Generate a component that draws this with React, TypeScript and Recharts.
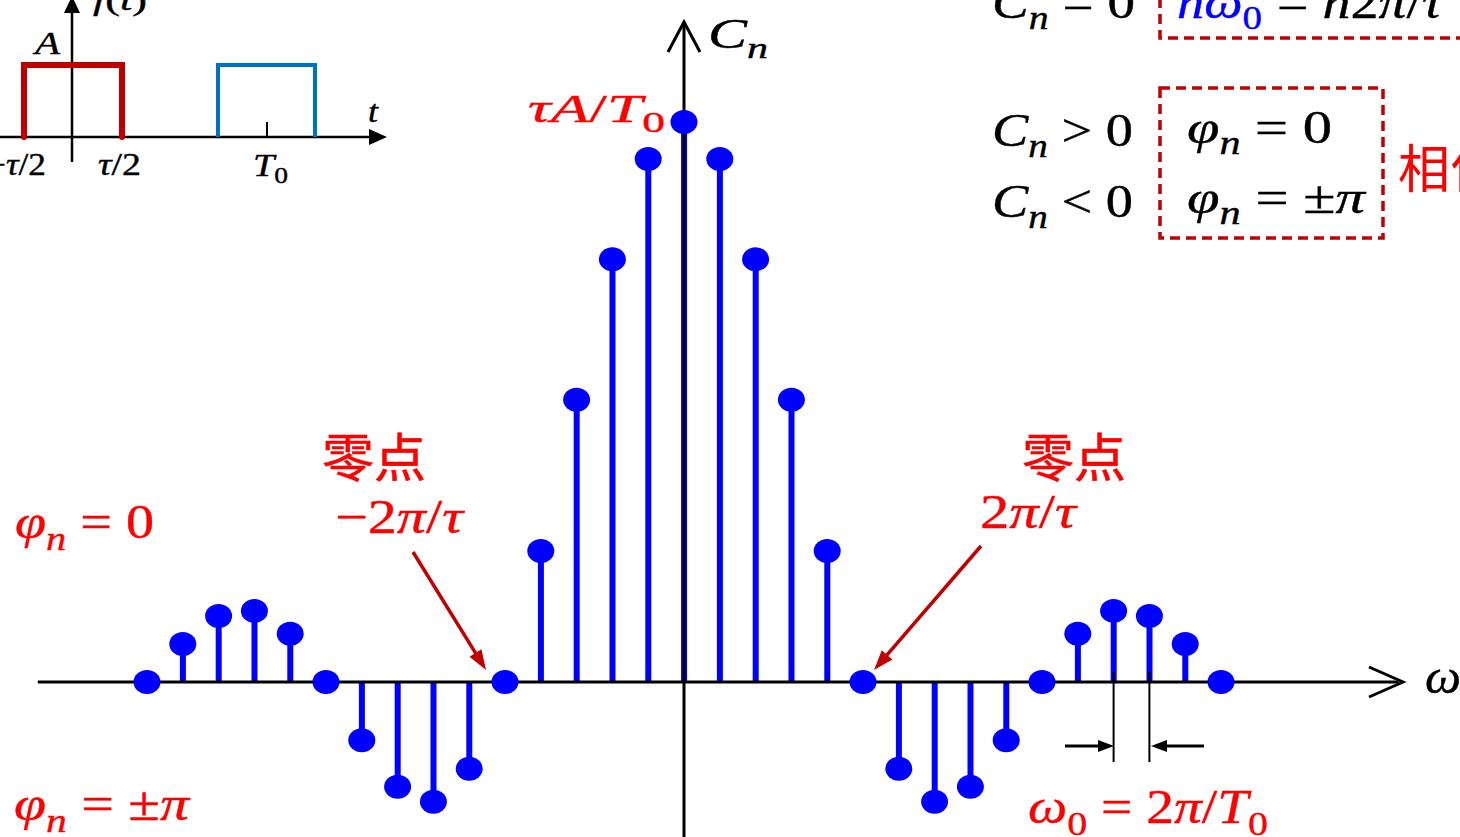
import { ComposedChart, Bar, Scatter, XAxis, YAxis, ReferenceLine } from 'recharts'

// harmonic index n and the Fourier coefficient C_n (normalised to τA/T0 = 1)
const harmonics = [-15, -14, -13, -12, -11, -10, -9, -8, -7, -6, -5, -4, -3, -2, -1, 0, 1, 2, 3, 4, 5, 6, 7, 8, 9, 10, 11, 12, 13, 14, 15]
const coefficients = [
  0, 0.068, 0.118, 0.127, 0.086, 0, -0.104, -0.187, -0.214, -0.155, 0,
  0.234, 0.504, 0.755, 0.934, 1, 0.934, 0.755, 0.504, 0.234,
  0, -0.155, -0.214, -0.187, -0.104, 0, 0.086, 0.127, 0.118, 0.068, 0,
]
// axis extents and the two ticks that mark one ω0 spacing
const omegaAxis = [-18.05, 19.96]
const cnAxis = [-0.28, 1.179]
const spacingTicks = [12, 13]
const spacingTickSpan = [0.018, -0.143]

const X_DOMAIN = [-19.106, 21.676]
const Y_DOMAIN = [-0.2768, 1.2179]

const W = 1460
const H = 837
const BLUE = '#0000ff'
const RED = '#ff0000'
const DARK_RED = '#c00000'
const MATH = '"Liberation Serif", "DejaVu Serif", serif'
const CJK = '"Noto Sans CJK SC", "Noto Sans CJK JP", sans-serif'

const data = harmonics.map((n, i) => ({ n, c: coefficients[i] }))

const Dot = (props: any) => (
  <ellipse cx={props.cx} cy={props.cy} rx={13.5} ry={12} fill={BLUE} />
)

function Eq({ x, y, size, width, fill = '#000', children }: any) {
  return (
    <text
      x={x}
      y={y}
      fontSize={size}
      fontFamily={MATH}
      fill={fill}
      stroke={fill}
      strokeWidth={0.4}
      textLength={width}
      lengthAdjust="spacingAndGlyphs"
    >
      {children}
    </text>
  )
}

function Arrow({ x1, y1, x2, y2, color, width, head, half }: any) {
  const dx = x2 - x1
  const dy = y2 - y1
  const len = Math.hypot(dx, dy)
  const ux = dx / len
  const uy = dy / len
  const bx = x2 - ux * head
  const by = y2 - uy * head
  const pts = `${x2},${y2} ${bx - uy * half},${by + ux * half} ${bx + uy * half},${by - ux * half}`
  return (
    <g>
      <line x1={x1} y1={y1} x2={bx + ux * 2} y2={by + uy * 2} stroke={color} strokeWidth={width} />
      <polygon points={pts} fill={color} />
    </g>
  )
}

function Annotations() {
  const sub = (s: string, size: number, italic = false) => (
    <tspan dy={size * 0.24} fontSize={size * 0.72} fontStyle={italic ? 'italic' : 'normal'}>{s}</tspan>
  )
  return (
    <svg width={W} height={H} style={{ position: 'absolute', left: 0, top: 0, pointerEvents: 'none' }}>
      {/* axis arrowheads */}
      <polyline points="1369,667 1403,682 1369,697" fill="none" stroke="#000" strokeWidth={3} />
      <polyline points="668,52 684,22 700,52" fill="none" stroke="#000" strokeWidth={3} />
      <Eq x={708} y={48} size={42} width={60}>
        <tspan fontStyle="italic">C</tspan>{sub('n', 42, true)}
      </Eq>
      <Eq x={1425} y={693} size={48} width={36}>
        <tspan fontStyle="italic">ω</tspan>
      </Eq>

      {/* rectangular pulse train f(t) */}
      <line x1={0} y1={137} x2={372} y2={137} stroke="#000" strokeWidth={2.5} />
      <polygon points="369,129 387,137 369,145" fill="#000" />
      <line x1={72} y1={162} x2={72} y2={10} stroke="#000" strokeWidth={2.5} />
      <polygon points="64,13 72,-4 80,13" fill="#000" />
      <line x1={267} y1={122} x2={267} y2={137} stroke="#000" strokeWidth={2} />
      <polyline points="24,137 24,65 122,65 122,137" fill="none" stroke={DARK_RED} strokeWidth={6} strokeLinecap="round" />
      <polyline points="218,137 218,65 315,65 315,137" fill="none" stroke="#0070c0" strokeWidth={4} />
      <Eq x={93} y={10} size={30} width={54}>
        <tspan fontStyle="italic">f</tspan>(<tspan fontStyle="italic">t</tspan>)
      </Eq>
      <Eq x={35} y={54} size={31} width={25}>
        <tspan fontStyle="italic">A</tspan>
      </Eq>
      <Eq x={368} y={122} size={31} width={10}>
        <tspan fontStyle="italic">t</tspan>
      </Eq>
      <Eq x={-14} y={175} size={31} width={60}>
        −<tspan fontStyle="italic">τ</tspan>/2
      </Eq>
      <Eq x={98} y={175} size={31} width={43}>
        <tspan fontStyle="italic">τ</tspan>/2
      </Eq>
      <Eq x={253} y={176} size={31} width={35}>
        <tspan fontStyle="italic">T</tspan>{sub('0', 31)}
      </Eq>

      {/* peak value */}
      <Eq x={528} y={122} size={40} width={137} fill={RED}>
        <tspan fontStyle="italic">τA</tspan>/<tspan fontStyle="italic">T</tspan>{sub('0', 40)}
      </Eq>

      {/* phase rule */}
      <Eq x={992} y={18} size={47} width={143}>
        <tspan fontStyle="italic">C</tspan>{sub('n', 47, true)}<tspan dy={-47 * 0.24}> = 0</tspan>
      </Eq>
      <Eq x={1177} y={18} size={47} width={85} fill={BLUE}>
        <tspan fontStyle="italic">nω</tspan>{sub('0', 47)}
      </Eq>
      <Eq x={1277} y={18} size={47} width={165}>
        = <tspan fontStyle="italic">n</tspan>2<tspan fontStyle="italic">π</tspan>/<tspan fontStyle="italic">τ</tspan>
      </Eq>
      <rect x={1160} y={-20} width={340} height={58} fill="none" stroke={DARK_RED} strokeWidth={3.5} strokeDasharray="10 6" />

      <Eq x={992} y={146} size={47} width={141}>
        <tspan fontStyle="italic">C</tspan>{sub('n', 47, true)}<tspan dy={-47 * 0.24}> &gt; 0</tspan>
      </Eq>
      <Eq x={992} y={217} size={47} width={141}>
        <tspan fontStyle="italic">C</tspan>{sub('n', 47, true)}<tspan dy={-47 * 0.24}> &lt; 0</tspan>
      </Eq>
      <rect x={1160} y={88} width={223} height={150} fill="none" stroke={DARK_RED} strokeWidth={3.5} strokeDasharray="10 6" />
      <Eq x={1187} y={143} size={47} width={145}>
        <tspan fontStyle="italic">φ</tspan>{sub('n', 47, true)}<tspan dy={-47 * 0.24}> = 0</tspan>
      </Eq>
      <Eq x={1187} y={213} size={47} width={178}>
        <tspan fontStyle="italic">φ</tspan>{sub('n', 47, true)}<tspan dy={-47 * 0.24}> = ±</tspan><tspan fontStyle="italic">π</tspan>
      </Eq>
      <text x={1398} y={188} fontSize={52} fontFamily={CJK} fill={RED}>相位</text>

      {/* phase labels */}
      <Eq x={15} y={538} size={48} width={139} fill={RED}>
        <tspan fontStyle="italic">φ</tspan>{sub('n', 48, true)}<tspan dy={-48 * 0.24}> = 0</tspan>
      </Eq>
      <Eq x={14} y={820} size={48} width={175} fill={RED}>
        <tspan fontStyle="italic">φ</tspan>{sub('n', 48, true)}<tspan dy={-48 * 0.24}> = ±</tspan><tspan fontStyle="italic">π</tspan>
      </Eq>

      {/* zero crossings */}
      <text x={322} y={477} fontSize={52} fontFamily={CJK} fill={RED} stroke={RED} strokeWidth={0.6} textLength={104} lengthAdjust="spacingAndGlyphs">零点</text>
      <Eq x={335} y={533} size={48} width={128} fill={RED}>
        −2<tspan fontStyle="italic">π</tspan>/<tspan fontStyle="italic">τ</tspan>
      </Eq>
      <Arrow x1={413} y1={552} x2={486} y2={670} color={DARK_RED} width={3.5} head={20} half={7} />
      <text x={1022} y={477} fontSize={52} fontFamily={CJK} fill={RED} stroke={RED} strokeWidth={0.6} textLength={104} lengthAdjust="spacingAndGlyphs">零点</text>
      <Eq x={980} y={528} size={48} width={96} fill={RED}>
        2<tspan fontStyle="italic">π</tspan>/<tspan fontStyle="italic">τ</tspan>
      </Eq>
      <Arrow x1={981} y1={546} x2={874} y2={670} color={DARK_RED} width={3.5} head={20} half={7} />

      {/* fundamental spacing */}
      <Arrow x1={1065} y1={746} x2={1114} y2={746} color="#000" width={3} head={16} half={6} />
      <Arrow x1={1204} y1={746} x2={1151} y2={746} color="#000" width={3} head={16} half={6} />
      <Eq x={1028} y={823} size={48} width={240} fill={RED}>
        <tspan fontStyle="italic">ω</tspan>{sub('0', 48)}<tspan dy={-48 * 0.24}> = 2</tspan><tspan fontStyle="italic">π</tspan>/<tspan fontStyle="italic">T</tspan>{sub('0', 48)}
      </Eq>
    </svg>
  )
}

export default function App() {
  return (
    <div style={{ position: 'absolute', left: 0, top: 0, width: W, height: H, background: '#fff' }}>
      <ComposedChart width={W} height={H} data={data} margin={{ top: 0, right: 0, bottom: 0, left: 0 }}>
        <XAxis type="number" dataKey="n" domain={X_DOMAIN} allowDataOverflow hide />
        <YAxis type="number" domain={Y_DOMAIN} allowDataOverflow hide />
        <Bar dataKey="c" barSize={6} fill={BLUE} isAnimationActive={false} />
        <Scatter dataKey="c" fill={BLUE} shape={Dot} isAnimationActive={false} />
        <ReferenceLine
          segment={[{ x: omegaAxis[0], y: 0 }, { x: omegaAxis[1], y: 0 }]}
          stroke="#000"
          strokeWidth={3}
          ifOverflow="visible"
        />
        <ReferenceLine
          segment={[{ x: 0, y: cnAxis[0] }, { x: 0, y: cnAxis[1] }]}
          stroke="#000"
          strokeWidth={3}
          ifOverflow="visible"
        />
        {spacingTicks.map((t) => (
          <ReferenceLine
            key={t}
            segment={[{ x: t, y: spacingTickSpan[0] }, { x: t, y: spacingTickSpan[1] }]}
            stroke="#000"
            strokeWidth={2}
            ifOverflow="visible"
          />
        ))}
      </ComposedChart>
      <Annotations />
    </div>
  )
}
